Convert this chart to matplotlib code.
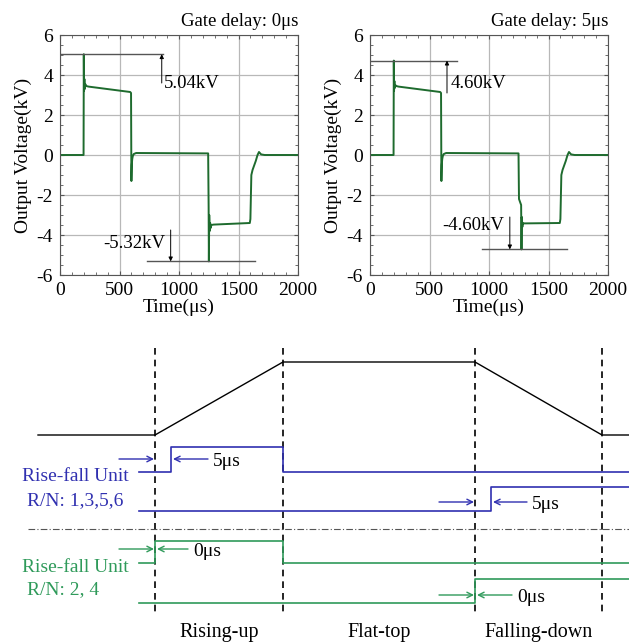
import matplotlib
matplotlib.use("Agg")
import matplotlib.pyplot as plt
from matplotlib.ticker import MultipleLocator

plt.rcParams["font.family"] = ["Liberation Serif", "DejaVu Serif"]
plt.rcParams["axes.unicode_minus"] = False

# ---- measured waveforms (time in us, voltage in kV) ----
t_0us = [0, 198, 200, 202, 205, 208, 212, 220, 240, 590, 597, 600, 603, 607,
         612, 620, 640, 1245, 1249, 1251, 1254, 1258, 1262, 1266, 1272, 1290,
         1595, 1600, 1608, 1618, 1630, 1645, 1660, 1672, 1690, 1720, 2000]
v_0us = [0, 0, 5.04, 3.2, 3.8, 3.3, 3.55, 3.45, 3.42, 3.15, 3.1, -1.3, -0.5,
         -0.2, -0.05, 0.05, 0.1, 0.08, -2.6, -5.32, -3.0, -3.8, -3.4, -3.65,
         -3.5, -3.48, -3.4, -3.2, -1.0, -0.75, -0.55, -0.3, 0.0, 0.15, 0.03, 0.0, 0.0]

t_5us = [0, 198, 200, 202, 205, 208, 212, 220, 240, 590, 597, 600, 603, 607,
         612, 620, 640, 1248, 1252, 1258, 1264, 1270, 1273, 1276, 1280, 1285,
         1295, 1595, 1600, 1608, 1618, 1630, 1645, 1660, 1672, 1690, 1720, 2000]
v_5us = [0, 0, 4.72, 3.2, 3.7, 3.35, 3.5, 3.45, 3.42, 3.15, 3.1, -1.3, -0.5,
         -0.2, -0.05, 0.05, 0.1, 0.08, -2.2, -2.3, -2.4, -2.5, -4.72, -3.1, -3.6,
         -3.4, -3.42, -3.4, -3.2, -1.0, -0.75, -0.55, -0.3, 0.0, 0.15, 0.03, 0.0, 0.0]

peak_labels = [("5.04kV", "-5.32kV"), ("4.60kV", "-4.60kV")]
titles = ["Gate delay: 0\u03bcs", "Gate delay: 5\u03bcs"]

# ---- timing diagram (schematic units) ----
phase_edges = [155, 283, 475, 602]
phase_names = ["Rising-up", "Flat-top", "Falling-down"]
ref_x = [38, 155, 283, 475, 602, 629]
ref_y = [435, 435, 362, 362, 435, 435]
blue_a_x = [139, 171, 171, 283, 283, 629]
blue_a_y = [472, 472, 447, 447, 472, 472]
blue_b_x = [139, 491, 491, 629]
blue_b_y = [511, 511, 487, 487]
green_a_x = [139, 155, 155, 283, 283, 629]
green_a_y = [563, 563, 541, 541, 563, 563]
green_b_x = [139, 475, 475, 629]
green_b_y = [603, 603, 579, 579]

wave_green = "#1e6b2e"
blue = "#3030b0"
green = "#2f9a5a"

fig = plt.figure(figsize=(6.29, 6.42), dpi=100)
W, H = 629.0, 642.0


def px_axes(x0, y0, x1, y1):
    return fig.add_axes([x0 / W, 1 - y1 / H, (x1 - x0) / W, (y1 - y0) / H])


ax1 = px_axes(60, 35, 298, 275)
ax2 = px_axes(370, 35, 608, 275)

for ax, t, v, title in [(ax1, t_0us, v_0us, titles[0]), (ax2, t_5us, v_5us, titles[1])]:
    ax.plot(t, v, color=wave_green, lw=1.4)
    ax.set_xlim(0, 2000)
    ax.set_ylim(-6, 6)
    ax.xaxis.set_major_locator(MultipleLocator(500))
    ax.xaxis.set_minor_locator(MultipleLocator(100))
    ax.yaxis.set_major_locator(MultipleLocator(2))
    ax.yaxis.set_minor_locator(MultipleLocator(0.5))
    ax.tick_params(which="both", direction="in", top=True, right=True,
                   labelsize=14, color="#555555")
    ax.tick_params(axis="x", pad=5)
    ax.tick_params(axis="y", pad=5)
    ax.tick_params(which="major", length=3)
    ax.tick_params(which="minor", length=2)
    ax.grid(True, which="major", color="#b8b8b8", lw=0.9)
    for s in ax.spines.values():
        s.set_color("#555555")
        s.set_linewidth(0.8)
    ax.set_xlabel("Time(\u03bcs)", fontsize=14, labelpad=0)
    ax.set_ylabel("Output Voltage(kV)", fontsize=14, labelpad=3)
    ax.text(1.0, 1.02, title, transform=ax.transAxes, ha="right", va="bottom",
            fontsize=13.5)

arrow = dict(arrowstyle="-|>", color="black", lw=0.7, mutation_scale=6,
             shrinkA=0, shrinkB=0)
line_kw = dict(color="#555555", lw=1.0)

# left plot annotations
vmax, vmin = max(v_0us), min(v_0us)
ax1.plot([0, 865], [vmax, vmax], **line_kw)
ax1.annotate("", xy=(855, vmax), xytext=(855, 3.6), arrowprops=arrow)
ax1.text(870, 3.6, peak_labels[0][0], fontsize=13.5, va="center", ha="left")
ax1.plot([730, 1640], [vmin, vmin], **line_kw)
ax1.annotate("", xy=(930, vmin), xytext=(930, -3.75), arrowprops=arrow)
ax1.text(885, -4.45, peak_labels[0][1], fontsize=13.5, va="center", ha="right")

# right plot annotations
vmax, vmin = max(v_5us), min(v_5us)
ax2.plot([0, 731], [vmax, vmax], **line_kw)
ax2.annotate("", xy=(647, vmax), xytext=(647, 3.1), arrowprops=arrow)
ax2.text(675, 3.6, peak_labels[1][0], fontsize=13.5, va="center", ha="left")
ax2.plot([940, 1655], [vmin, vmin], **line_kw)
ax2.annotate("", xy=(1175, vmin), xytext=(1175, -3.1), arrowprops=arrow)
ax2.text(1130, -3.55, peak_labels[1][1], fontsize=13.5, va="center", ha="right")

# ---- timing diagram ----
ax3 = fig.add_axes([0, 0, 1, 312 / H])
ax3.set_xlim(0, W)
ax3.set_ylim(H, 330)
ax3.axis("off")

for x in phase_edges:
    ax3.plot([x, x], [348, 615], color="black", lw=1.2, ls=(0, (4, 3)))

ax3.plot(ref_x, ref_y, color="black", lw=1.0)
ax3.plot(blue_a_x, blue_a_y, color=blue, lw=1.2)
ax3.plot(blue_b_x, blue_b_y, color=blue, lw=1.2)
ax3.plot(green_a_x, green_a_y, color=green, lw=1.2)
ax3.plot(green_b_x, green_b_y, color=green, lw=1.2)
ax3.plot([28, 629], [529, 529], color="#555555", lw=0.8, ls=(0, (6, 2, 1, 2)))


def gap_arrows(y, x_edge, x_step, x_out, color, label):
    a = dict(arrowstyle="->", color=color, lw=1.0, shrinkA=0, shrinkB=0)
    ax3.annotate("", xy=(x_edge - 1, y), xytext=(x_edge - 36, y), arrowprops=a)
    ax3.annotate("", xy=(x_step + 2, y), xytext=(x_out, y), arrowprops=a)
    ax3.text(x_out + 5, y + 2, label, fontsize=14, va="center", ha="left")


gap_arrows(459, 155, 171, 208, blue, "5\u03bcs")
gap_arrows(502, 475, 491, 527, blue, "5\u03bcs")
gap_arrows(549, 155, 155, 188, green, "0\u03bcs")
gap_arrows(595, 475, 475, 512, green, "0\u03bcs")

ax3.text(22, 476, "Rise-fall Unit", color=blue, fontsize=14, va="center", ha="left")
ax3.text(27, 501, "R/N: 1,3,5,6", color=blue, fontsize=14, va="center", ha="left")
ax3.text(22, 567, "Rise-fall Unit", color=green, fontsize=14, va="center", ha="left")
ax3.text(27, 590, "R/N: 2, 4", color=green, fontsize=14, va="center", ha="left")

for i, name in enumerate(phase_names):
    xc = (phase_edges[i] + phase_edges[i + 1]) / 2
    ax3.text(xc, 632, name, fontsize=14.5, ha="center", va="center")

fig.savefig("out.png", dpi=100)
